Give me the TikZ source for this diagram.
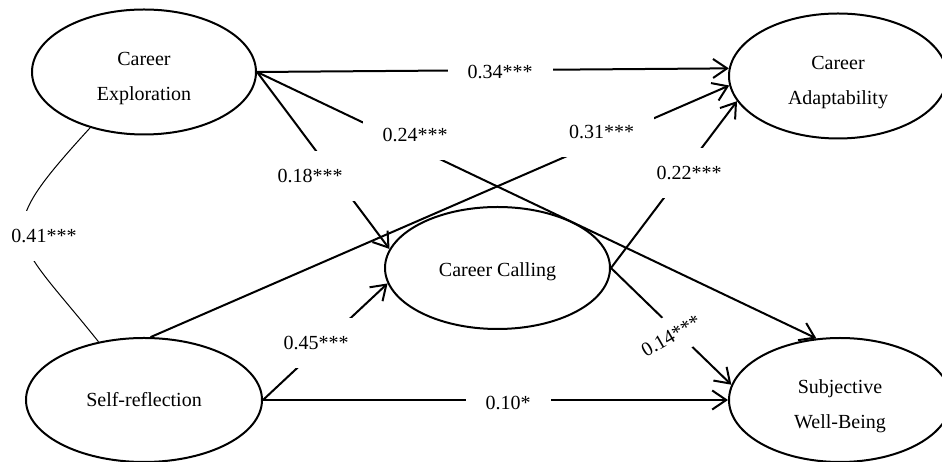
\documentclass[tikz,border=0pt]{standalone}
\usepackage{fontspec}
\setmainfont{Liberation Serif}
\usetikzlibrary{arrows.meta,shapes.geometric}
\begin{document}
\begin{tikzpicture}[x=1pt,y=1pt,
  latent/.style={draw, ellipse, line width=2pt, inner sep=0pt, align=center,
    font=\fontsize{20}{35}\selectfont},
  twoline/.style={text height=57pt, text depth=0pt},
  pathline/.style={line width=2pt, -{Straight Barb[length=14pt,width=19pt]}},
  coef/.style={fill=white, inner xsep=20pt, inner ysep=0pt, minimum height=50pt,
    font=\fontsize{20}{24}\selectfont},
  corr/.style={line width=1pt}]
\useasboundingbox (0,0) rectangle (942,462);
% latent variables
\node[latent, twoline, minimum width=224pt, minimum height=125pt] (CE) at (144,390) {Career\\Exploration};
\node[latent, twoline, minimum width=218pt, minimum height=125pt] (CA) at (838,386) {Career\\Adaptability};
\node[latent, text height=18pt, text depth=0pt, minimum width=225pt, minimum height=122pt] (CC) at (497.5,194) {Career Calling};
\node[latent, minimum width=236pt, minimum height=124pt] (SR) at (144,62) {Self-reflection};
\node[latent, twoline, minimum width=222pt, minimum height=124pt] (SWB) at (840,62) {Subjective\\Well-Being};
% paths
\draw[pathline] (CE.east) -- (CA.176);
\draw[pathline] (CE.east) -- (CC.170);
\draw[pathline] (CE.east) -- (SWB.111);
\draw[pathline] (SR.84) -- (CA.185);
\draw[pathline] (SR.east) -- (CC.188);
\draw[pathline] (SR.east) -- (SWB.west);
\draw[pathline] (CC.east) -- (CA.194);
\draw[pathline] (CC.east) -- (SWB.172);
% correlation
\draw[corr] (CE.226) .. controls (-11.5,223) and (11,230) .. (SR.128);
% coefficients
\node[coef] (l34) at (500,390) {0.34***};
\node[coef] (l24) at (415,327) {0.24***};
\node[coef] (l18) at (310,286) {0.18***};
\node[coef] (l31) at (601.5,330) {0.31***};
\node[coef] (l22) at (689,289) {0.22***};
\node[coef] (l45) at (316,119) {0.45***};
\node[coef] (l10) at (508,59) {0.10*};
\node[coef, inner xsep=8pt, minimum height=40pt, rotate=30] (l14) at (671,126) {0.14***};
\node[coef] (l41) at (44,226) {0.41***};
\end{tikzpicture}
\end{document}
